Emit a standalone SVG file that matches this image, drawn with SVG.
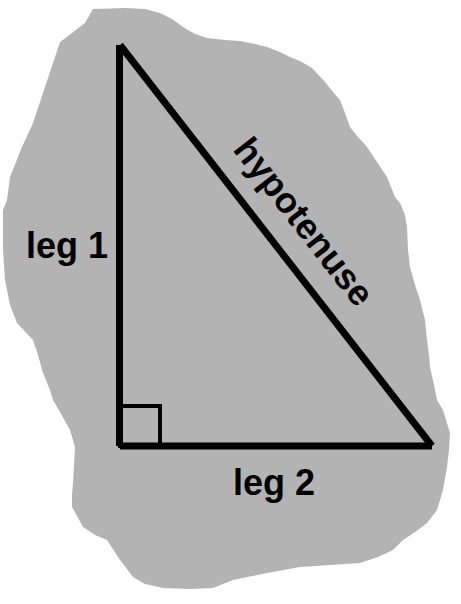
<svg xmlns="http://www.w3.org/2000/svg" width="461" height="604" viewBox="0 0 461 604">
<style>
.lbl{font-family:"Liberation Sans",Arial,sans-serif;font-weight:bold;font-size:36px;fill:#000}
.edge{stroke:#000;stroke-width:7;fill:none;stroke-linecap:butt}
</style>
<rect width="461" height="604" fill="#fff"/>
<g id="blob">
<path fill="#b3b3b3" d="M93,9 L125,8 L145,9 L160,13 L172,19 L183,27 L195,34 L207,38 L225,40 L240,41 L255,44 L267,47 L280,52 L290,57 L300,61 L312,68 L325,82 L333,92 L340,100 L345,113 L350,127 L358,137 L367,147 L377,162 L387,177 L395,197 L400,203 L405,215 L407,227 L408,250 L410,267 L415,285 L420,300 L425,320 L427,340 L429,355 L430,367 L434,385 L437,400 L443,410 L450,433 L449,450 L447,467 L443,490 L437,510 L427,523 L415,532 L403,540 L393,550 L378,557 L360,563 L330,565 L300,567 L267,573 L233,580 L213,588 L190,589 L163,588 L145,584 L133,577 L120,560 L107,540 L95,535 L83,527 L72,507 L72,495 L73,483 L74,465 L75,447 L70,430 L60,412 L53,400 L50,390 L43,373 L38,355 L33,340 L17,323 L10,305 L5,280 L3,250 L3,230 L3,210 L7,200 L10,177 L22,147 L33,123 L43,93 L53,63 L60,42 L72,33 L85,23 Z"/>
</g>
<g id="connectors">
<line class="edge" x1="119.5" y1="45" x2="119.5" y2="446"/>
<line class="edge" x1="120" y1="446" x2="432" y2="446"/>
<line class="edge" x1="120" y1="45" x2="432" y2="446"/>
<rect x="120" y="406" width="40" height="40" fill="none" stroke="#000" stroke-width="4"/>
</g>
<g id="labels">
<text class="lbl" x="26" y="258">leg 1</text>
<text class="lbl" x="233" y="495">leg 2</text>
<text class="lbl" text-anchor="middle" transform="translate(294.3,229.3) rotate(52)">hypotenuse</text>
</g>
</svg>
